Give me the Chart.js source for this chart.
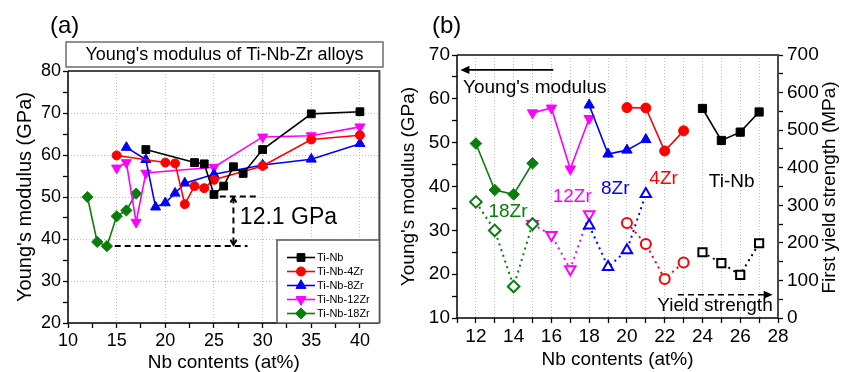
<!DOCTYPE html>
<html>
<head>
<meta charset="utf-8">
<script src="https://cdn.jsdelivr.net/npm/chart.js@4.4.1/dist/chart.umd.min.js"></script>
<style>
    html, body { margin: 0; padding: 0; background: #fff; }
    #wrap { position: relative; width: 853px; height: 372px; overflow: hidden; }
    canvas { position: absolute; top: 0; }
    #chartA { left: 0; }
    #chartB { left: 395px; }
</style>
</head>
<body>
<div id="wrap">
    <canvas id="chartA" width="395" height="372"></canvas>
    <canvas id="chartB" width="458" height="372"></canvas>
</div>
<script>
(function () {
    'use strict';

    var FONT = '"Liberation Sans", Arial, Helvetica, sans-serif';

    /* ── Panel (a): Young's modulus of Ti-Nb-Zr alloys ── */
    var nbTiNb = [18, 23, 24, 25, 26, 27, 28, 30, 35, 40];
    var eTiNb = [61.3, 58.2, 57.9, 50.6, 52.6, 57.2, 55.6, 61.3, 69.8, 70.3];
    var nb4Zr = [15, 20, 21, 22, 23, 24, 25, 30, 35, 40];
    var e4Zr = [59.9, 58.2, 58.0, 48.3, 52.6, 52.1, 54.1, 57.4, 63.7, 64.7];
    var nb8Zr = [16, 18, 19, 20, 21, 22, 25, 30, 35, 40];
    var e8Zr = [61.8, 58.9, 47.6, 48.6, 50.9, 53.3, 55.4, 57.6, 59.0, 62.7];
    var nb12Zr = [15, 16, 17, 18, 25, 30, 35, 40];
    var e12Zr = [56.9, 58.2, 44.0, 55.7, 57.1, 64.3, 64.6, 66.7];
    var nb18Zr = [12, 13, 14, 15, 16, 17];
    var e18Zr = [50.0, 39.3, 38.3, 45.4, 46.8, 50.8];
    var seriesNamesA = ['Ti-Nb', 'Ti-Nb-4Zr', 'Ti-Nb-8Zr', 'Ti-Nb-12Zr', 'Ti-Nb-18Zr'];
    var xTicksA = [10, 12.5, 15, 17.5, 20, 22.5, 25, 27.5, 30, 32.5, 35, 37.5, 40];
    var yTicksA = [20, 25, 30, 35, 40, 45, 50, 55, 60, 65, 70, 75, 80];

    /* ── Panel (b): modulus (left axis) and first yield strength (right axis) ── */
    var nbB18Zr = [12, 13, 14, 15];
    var eB18Zr = [49.8, 39.2, 38.2, 45.3];
    var ysB18Zr = [309, 233, 84, 250];
    var nbB12Zr = [15, 16, 17, 18];
    var eB12Zr = [56.8, 57.9, 44.0, 55.5];
    var ysB12Zr = [250, 221, 130, 276];
    var nbB8Zr = [18, 19, 20, 21];
    var eB8Zr = [58.6, 47.4, 48.3, 50.7];
    var ysB8Zr = [246, 136, 180, 330];
    var nbB4Zr = [20, 21, 22, 23];
    var eB4Zr = [58.0, 57.9, 48.1, 52.7];
    var ysB4Zr = [253, 197, 104, 148];
    var nbBTiNb = [24, 25, 26, 27];
    var eBTiNb = [57.8, 50.5, 52.4, 57.0];
    var ysBTiNb = [175, 146, 115, 199];
    var xTicksB = [11, 12, 13, 14, 15, 16, 17, 18, 19, 20, 21, 22, 23, 24, 25, 26, 27, 28];
    var yTicksB = [10, 15, 20, 25, 30, 35, 40, 45, 50, 55, 60, 65, 70];
    var y2TicksB = [0, 50, 100, 150, 200, 250, 300, 350, 400, 450, 500, 550, 600, 650, 700];

    var BLACK = '#000000', RED = '#ff0000', BLUE = '#0000ff', MAGENTA = '#ff00ff', GREEN = '#0a7d0a';

    function pts(xs, ys) {
        return xs.map(function (x, i) { return { x: x, y: ys[i] }; });
    }

    function fixedTicks(values) {
        return function (s) {
            s.ticks = values.map(function (v) { return { value: v }; });
        };
    }

    function marker(style, radius, rotation) {
        return { pointStyle: style, pointRadius: radius, pointHoverRadius: radius, pointRotation: rotation || 0 };
    }

    function solidSet(label, data, color, mk, yAxis) {
        var ds = {
            label: label, data: data, showLine: true,
            borderColor: color, backgroundColor: color,
            pointBackgroundColor: color, pointBorderColor: color, pointBorderWidth: 1,
            borderWidth: 1.6, tension: 0
        };
        if (yAxis) ds.yAxisID = yAxis;
        return Object.assign(ds, mk);
    }

    function dottedSet(label, data, color, mk) {
        var ds = {
            label: label, data: data, showLine: true, yAxisID: 'y2',
            borderColor: color, backgroundColor: '#ffffff',
            pointBackgroundColor: '#ffffff', pointBorderColor: color, pointBorderWidth: 2,
            borderWidth: 2, borderDash: [2, 4], tension: 0
        };
        return Object.assign(ds, mk);
    }

    function tickFont(size) { return { family: FONT, size: size }; }

    function isMultiple(v, step) {
        return Math.abs(v / step - Math.round(v / step)) < 1e-6;
    }

    function majorGrid(step) {
        return function (c) {
            if (!c.tick) return 'rgba(0,0,0,0)';
            return isMultiple(c.tick.value, step) ? '#bdbdbd' : 'rgba(0,0,0,0)';
        };
    }

    function labelEvery(step) {
        return function (v) { return isMultiple(v, step) ? String(v) : ''; };
    }

    function drawMarker(ctx, style, x, y, r, fill, stroke, lw) {
        ctx.save();
        ctx.beginPath();
        if (style === 'rect') {
            var s = r * Math.SQRT1_2;
            ctx.rect(x - s, y - s, 2 * s, 2 * s);
        } else if (style === 'circle') {
            ctx.arc(x, y, r, 0, Math.PI * 2);
        } else if (style === 'triangle' || style === 'triangleDown') {
            var d = style === 'triangle' ? 1 : -1;
            ctx.moveTo(x, y - d * r);
            ctx.lineTo(x + r * 0.866, y + d * r / 2);
            ctx.lineTo(x - r * 0.866, y + d * r / 2);
            ctx.closePath();
        } else if (style === 'rectRot') {
            ctx.moveTo(x, y - r); ctx.lineTo(x + r, y); ctx.lineTo(x, y + r); ctx.lineTo(x - r, y);
            ctx.closePath();
        }
        ctx.fillStyle = fill; ctx.fill();
        ctx.lineWidth = lw; ctx.strokeStyle = stroke; ctx.stroke();
        ctx.restore();
    }

    function arrowHead(ctx, x, y, dir, size) {
        ctx.beginPath();
        if (dir === 'left') { ctx.moveTo(x, y); ctx.lineTo(x + size, y - size * 0.45); ctx.lineTo(x + size, y + size * 0.45); }
        if (dir === 'right') { ctx.moveTo(x, y); ctx.lineTo(x - size, y - size * 0.45); ctx.lineTo(x - size, y + size * 0.45); }
        ctx.closePath();
        ctx.fill();
    }

    function chevron(ctx, x, y, dir, size) {
        var d = dir === 'up' ? 1 : -1;
        ctx.beginPath();
        ctx.moveTo(x - size * 0.6, y + d * size);
        ctx.lineTo(x, y);
        ctx.lineTo(x + size * 0.6, y + d * size);
        ctx.stroke();
    }

    function drawFrame(chart) {
        var ctx = chart.ctx, a = chart.chartArea;
        ctx.save();
        ctx.lineWidth = 2;
        ctx.strokeStyle = '#4a4a4a';
        ctx.beginPath();
        ctx.moveTo(a.left, a.top); ctx.lineTo(a.right, a.top); ctx.lineTo(a.right, a.bottom);
        ctx.stroke();
        ctx.lineWidth = 1.5;
        ctx.strokeStyle = '#000';
        ctx.beginPath();
        ctx.moveTo(a.left, a.top); ctx.lineTo(a.left, a.bottom); ctx.lineTo(a.right, a.bottom);
        ctx.stroke();
        ctx.restore();
    }

    /* ── Chart (a) ── */
    var stylesA = [
        { c: BLACK, s: 'rect', r: 5.5 },
        { c: RED, s: 'circle', r: 4.5 },
        { c: BLUE, s: 'triangle', r: 5.8 },
        { c: MAGENTA, s: 'triangleDown', r: 5.8 },
        { c: GREEN, s: 'rectRot', r: 5.6 }
    ];

    function mkA(i) {
        var st = stylesA[i];
        if (st.s === 'triangleDown') return marker('triangle', st.r, 180);
        return marker(st.s, st.r, 0);
    }

    var decorA = {
        id: 'decorA',
        afterDraw: function (chart) {
            var ctx = chart.ctx, xs = chart.scales.x, ys = chart.scales.y, a = chart.chartArea;
            drawFrame(chart);
            ctx.save();

            // panel label and title box
            ctx.fillStyle = '#000';
            ctx.font = '24px ' + FONT;
            ctx.textBaseline = 'middle';
            ctx.textAlign = 'left';
            ctx.fillText('(a)', 50, 26);

            ctx.lineWidth = 1.5;
            ctx.strokeStyle = '#6e6e6e';
            ctx.strokeRect(66, 42, 317, 25);
            ctx.font = '18px ' + FONT;
            ctx.textAlign = 'center';
            ctx.fillText("Young's modulus of Ti-Nb-Zr alloys", 224.5, 55);

            // 12.1 GPa difference annotation
            ctx.strokeStyle = '#000';
            ctx.lineWidth = 2;
            ctx.setLineDash([6, 4]);
            ctx.beginPath();
            ctx.moveTo(xs.getPixelForValue(14.8), ys.getPixelForValue(38.33));
            ctx.lineTo(xs.getPixelForValue(28.45), ys.getPixelForValue(38.33));
            ctx.moveTo(xs.getPixelForValue(25.6), ys.getPixelForValue(50.1));
            ctx.lineTo(xs.getPixelForValue(29.4), ys.getPixelForValue(50.1));
            ctx.moveTo(xs.getPixelForValue(27.0), ys.getPixelForValue(49.9));
            ctx.lineTo(xs.getPixelForValue(27.0), ys.getPixelForValue(38.6));
            ctx.stroke();
            ctx.setLineDash([]);
            chevron(ctx, xs.getPixelForValue(27.0), ys.getPixelForValue(49.9), 'up', 5);
            chevron(ctx, xs.getPixelForValue(27.0), ys.getPixelForValue(38.6), 'down', 5);

            ctx.font = '23px ' + FONT;
            ctx.textAlign = 'left';
            ctx.fillText('12.1 GPa', xs.getPixelForValue(27.66), ys.getPixelForValue(45.2));

            // legend box
            var lx = 277, ly = 240;
            ctx.fillStyle = '#fff';
            ctx.fillRect(lx, ly, a.right - lx, a.bottom - ly);
            ctx.lineWidth = 1.5;
            ctx.strokeStyle = '#555';
            ctx.strokeRect(lx, ly, a.right - lx, a.bottom - ly);
            ctx.font = '11px ' + FONT;
            ctx.textAlign = 'left';
            for (var i = 0; i < seriesNamesA.length; i++) {
                var st = stylesA[i];
                var yy = 257.5 + i * 14;
                ctx.strokeStyle = st.c;
                ctx.lineWidth = 1.6;
                ctx.beginPath();
                ctx.moveTo(287, yy); ctx.lineTo(315, yy);
                ctx.stroke();
                drawMarker(ctx, st.s, 301, yy, st.r, st.c, st.c, 1);
                ctx.fillStyle = '#000';
                ctx.fillText(seriesNamesA[i], 317, yy + 0.5);
            }
            ctx.restore();
        }
    };

    new Chart(document.getElementById('chartA'), {
        type: 'scatter',
        data: {
            datasets: [
                solidSet(seriesNamesA[0], pts(nbTiNb, eTiNb), BLACK, mkA(0)),
                solidSet(seriesNamesA[1], pts(nb4Zr, e4Zr), RED, mkA(1)),
                solidSet(seriesNamesA[2], pts(nb8Zr, e8Zr), BLUE, mkA(2)),
                solidSet(seriesNamesA[3], pts(nb12Zr, e12Zr), MAGENTA, mkA(3)),
                solidSet(seriesNamesA[4], pts(nb18Zr, e18Zr), GREEN, mkA(4))
            ]
        },
        options: {
            responsive: false, animation: false,
            layout: { padding: { left: 0, right: 15.6, top: 71, bottom: 0 } },
            plugins: { legend: { display: false }, tooltip: { enabled: false } },
            scales: {
                x: {
                    type: 'linear', min: 10, max: 42,
                    afterBuildTicks: fixedTicks(xTicksA),
                    afterFit: function (s) { s.height = 49; },
                    ticks: { autoSkip: false, maxRotation: 0, padding: 2, color: '#000', font: tickFont(18), callback: labelEvery(5) },
                    grid: { color: majorGrid(5), lineWidth: 1, tickColor: '#000', tickLength: 5, tickWidth: 1.3 },
                    border: { display: false, dash: [1, 2] },
                    title: { display: true, text: 'Nb contents (at%)', color: '#000', font: { family: FONT, size: 19 }, padding: { top: 0, bottom: -2 } }
                },
                y: {
                    type: 'linear', min: 20, max: 80,
                    afterBuildTicks: fixedTicks(yTicksA),
                    afterFit: function (s) { s.width = 68; },
                    ticks: { autoSkip: false, padding: 2, color: '#000', font: tickFont(18), callback: labelEvery(10) },
                    grid: { color: majorGrid(10), lineWidth: 1, tickColor: '#000', tickLength: 5, tickWidth: 1.3 },
                    border: { display: false, dash: [1, 2] },
                    title: { display: true, text: "Young's modulus (GPa)", color: '#000', font: { family: FONT, size: 20 }, padding: { top: 13, bottom: 0 } }
                }
            }
        },
        plugins: [decorA]
    });

    /* ── Chart (b) ── */
    var decorB = {
        id: 'decorB',
        afterDraw: function (chart) {
            var ctx = chart.ctx, xs = chart.scales.x, ys = chart.scales.y, a = chart.chartArea;
            drawFrame(chart);
            ctx.save();
            ctx.fillStyle = '#000';
            ctx.textBaseline = 'middle';
            ctx.font = '24px ' + FONT;
            ctx.textAlign = 'left';
            ctx.fillText('(b)', 37, 26);

            // right axis title, reads bottom to top
            ctx.save();
            ctx.translate(435, (a.top + a.bottom) / 2 + 1);
            ctx.rotate(-Math.PI / 2);
            ctx.textAlign = 'center';
            ctx.font = '19px ' + FONT;
            ctx.fillText('First yield strength (MPa)', 0, 0);
            ctx.restore();

            // series labels
            var labels = [
                { t: '18Zr', x: 13.7, y: 34.2, c: GREEN },
                { t: '12Zr', x: 17.1, y: 37.7, c: MAGENTA },
                { t: '8Zr', x: 19.38, y: 39.4, c: BLUE },
                { t: '4Zr', x: 21.94, y: 41.75, c: RED },
                { t: 'Ti-Nb', x: 25.55, y: 41.1, c: BLACK }
            ];
            ctx.font = '19px ' + FONT;
            ctx.textAlign = 'center';
            labels.forEach(function (l) {
                ctx.fillStyle = l.c;
                ctx.fillText(l.t, xs.getPixelForValue(l.x), ys.getPixelForValue(l.y));
            });

            // axis pointer arrows
            ctx.fillStyle = '#000';
            ctx.strokeStyle = '#000';
            ctx.lineWidth = 1.6;
            var yA = ys.getPixelForValue(66.6);
            var xA0 = xs.getPixelForValue(11.18), xA1 = xs.getPixelForValue(16.1);
            ctx.beginPath(); ctx.moveTo(xA0 + 6, yA); ctx.lineTo(xA1, yA); ctx.stroke();
            arrowHead(ctx, xA0, yA, 'left', 9);
            ctx.textAlign = 'left';
            ctx.fillText("Young's modulus", xs.getPixelForValue(11.32), ys.getPixelForValue(62.6));

            var yY = ys.getPixelForValue(15.3);
            var xY0 = xs.getPixelForValue(22.7), xY1 = xs.getPixelForValue(27.72);
            ctx.setLineDash([6, 4]);
            ctx.beginPath(); ctx.moveTo(xY0, yY); ctx.lineTo(xY1 - 6, yY); ctx.stroke();
            ctx.setLineDash([]);
            arrowHead(ctx, xY1, yY, 'right', 9);
            ctx.textAlign = 'right';
            ctx.fillText('Yield strength', xs.getPixelForValue(27.72), ys.getPixelForValue(12.8));
            ctx.restore();
        }
    };

    new Chart(document.getElementById('chartB'), {
        type: 'scatter',
        data: {
            datasets: [
                solidSet('Ti-Nb', pts(nbBTiNb, eBTiNb), BLACK, marker('rect', 5.8, 0), 'y'),
                solidSet('Ti-Nb-4Zr', pts(nbB4Zr, eB4Zr), RED, marker('circle', 5, 0), 'y'),
                solidSet('Ti-Nb-8Zr', pts(nbB8Zr, eB8Zr), BLUE, marker('triangle', 6, 0), 'y'),
                solidSet('Ti-Nb-12Zr', pts(nbB12Zr, eB12Zr), MAGENTA, marker('triangle', 6, 180), 'y'),
                solidSet('Ti-Nb-18Zr', pts(nbB18Zr, eB18Zr), GREEN, marker('rectRot', 5.8, 0), 'y'),
                dottedSet('Ti-Nb YS', pts(nbBTiNb, ysBTiNb), BLACK, marker('rect', 5.8, 0)),
                dottedSet('Ti-Nb-4Zr YS', pts(nbB4Zr, ysB4Zr), RED, marker('circle', 5, 0)),
                dottedSet('Ti-Nb-8Zr YS', pts(nbB8Zr, ysB8Zr), BLUE, marker('triangle', 6, 0)),
                dottedSet('Ti-Nb-18Zr YS', pts(nbB18Zr, ysB18Zr), GREEN, marker('rectRot', 5.8, 0)),
                dottedSet('Ti-Nb-12Zr YS', pts(nbB12Zr, ysB12Zr), MAGENTA, marker('triangle', 6, 180))
            ]
        },
        options: {
            responsive: false, animation: false,
            layout: { padding: { left: 0, right: 0, top: 55, bottom: 0 } },
            plugins: { legend: { display: false }, tooltip: { enabled: false } },
            scales: {
                x: {
                    type: 'linear', min: 11, max: 28,
                    afterBuildTicks: fixedTicks(xTicksB),
                    afterFit: function (s) { s.height = 54; },
                    ticks: { autoSkip: false, maxRotation: 0, padding: 2, color: '#000', font: tickFont(19), callback: labelEvery(2) },
                    grid: { color: function (c) { return c.tick && c.tick.value > 11 && c.tick.value < 28 ? '#bdbdbd' : 'rgba(0,0,0,0)'; }, lineWidth: 1, tickColor: '#000', tickLength: 5, tickWidth: 1.3 },
                    border: { display: false, dash: [1, 2] },
                    title: { display: true, text: 'Nb contents (at%)', color: '#000', font: { family: FONT, size: 19 }, padding: { top: 0, bottom: 1 } }
                },
                y: {
                    type: 'linear', position: 'left', min: 10, max: 70,
                    afterBuildTicks: fixedTicks(yTicksB),
                    afterFit: function (s) { s.width = 62; },
                    ticks: { autoSkip: false, padding: 2, color: '#000', font: tickFont(19), callback: labelEvery(10) },
                    grid: { drawOnChartArea: false, tickColor: '#000', tickLength: 5, tickWidth: 1.3 },
                    border: { display: false },
                    title: { display: true, text: "Young's modulus (GPa)", color: '#000', font: { family: FONT, size: 19 }, padding: { top: 2, bottom: 0 } }
                },
                y2: {
                    type: 'linear', position: 'right', min: 0, max: 700,
                    afterBuildTicks: fixedTicks(y2TicksB),
                    afterFit: function (s) { s.width = 75; },
                    ticks: { autoSkip: false, padding: 4, color: '#000', font: tickFont(19), callback: labelEvery(100) },
                    grid: { drawOnChartArea: false, tickColor: '#000', tickLength: 5, tickWidth: 1.3 },
                    border: { display: false },
                    title: { display: false }
                }
            }
        },
        plugins: [decorB]
    });
})();
</script>
</body>
</html>
